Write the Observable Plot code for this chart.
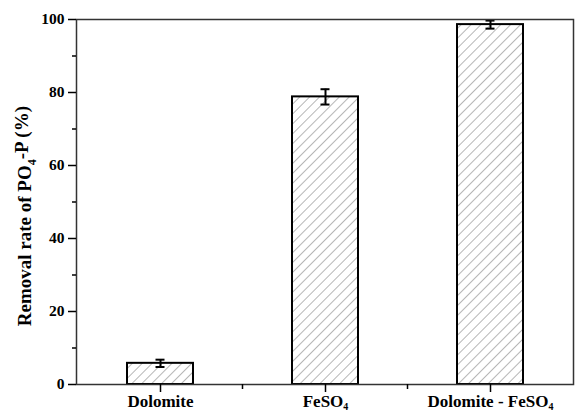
<!DOCTYPE html>
<html>
<head>
<meta charset="utf-8">
<script src="https://cdn.jsdelivr.net/npm/d3@7"></script>
<script src="https://cdn.jsdelivr.net/npm/@observablehq/plot@0.6"></script>
<style>
  html, body { margin: 0; padding: 0; background: white; }
  #chart svg text, #chart svg tspan { font-family: "Liberation Serif", "Times New Roman", Times, serif !important; font-weight: bold !important; }
  #chart svg g[aria-label="y-axis tick label"] text { font-size: 15.5px !important; }
  #chart svg g[aria-label="x-axis tick label"] text { font-size: 17px !important; }
  #chart svg text.ytitle { font-size: 19px !important; }
  #chart svg tspan.sub { font-size: 10px !important; }
  #chart svg tspan.subt { font-size: 12px !important; }
</style>
</head>
<body>
<div id="chart"></div>
<script>
const categories = ["Dolomite", "FeSO4", "Dolomite - FeSO4"];
const removal = [5.8, 78.8, 98.6];
const errors = [1.0, 2.1, 1.1];
const yMajorTicks = [0, 20, 40, 60, 80, 100];
const yMinorTicks = [10, 30, 50, 70, 90];

const data = categories.map((c, i) => ({cat: c, v: removal[i], e: errors[i]}));

const plot = Plot.plot({
  width: 577,
  height: 415,
  marginLeft: 76,
  marginRight: 4,
  marginTop: 19,
  marginBottom: 31,
  style: {fontFamily: "Liberation Serif", fontWeight: "bold", fontSize: "15px", background: "white", color: "black"},
  x: {domain: categories, paddingInner: 0.6, paddingOuter: 0.3, axis: null},
  y: {domain: [0, 100], axis: null},
  marks: [
    Plot.barY(data, {x: "cat", y: "v", fill: "url(#hatch)", stroke: "black", strokeWidth: 2}),
    Plot.ruleX(data, {x: "cat", y1: d => d.v - d.e, y2: d => d.v + d.e, stroke: "black", strokeWidth: 2}),
    Plot.tickY(data, {x: "cat", y: d => d.v - d.e, insetLeft: 28.5, insetRight: 28.5, stroke: "black", strokeWidth: 2}),
    Plot.tickY(data, {x: "cat", y: d => d.v + d.e, insetLeft: 28.5, insetRight: 28.5, stroke: "black", strokeWidth: 2}),
    Plot.frame({stroke: "#333", strokeWidth: 1.5}),
    Plot.axisY({ticks: yMajorTicks, tickSize: 8, tickPadding: 4, label: null, strokeWidth: 1.5}),
    Plot.axisY({ticks: yMinorTicks, tickSize: 4, tickFormat: () => "", label: null, strokeWidth: 1.5}),
    Plot.axisX({ticks: categories, tickSize: 8, tickPadding: 2, label: null, strokeWidth: 1.5})
  ]
});

const svg = d3.select(plot);
// hatch pattern
const defs = svg.insert("defs", ":first-child");
const pat = defs.append("pattern")
  .attr("id", "hatch")
  .attr("patternUnits", "userSpaceOnUse")
  .attr("width", 7).attr("height", 7)
  .attr("patternTransform", "rotate(45)");
pat.append("rect").attr("width", 7).attr("height", 7).attr("fill", "white");
pat.append("line").attr("x1", 0).attr("y1", 0).attr("x2", 0).attr("y2", 7)
  .attr("stroke", "#6e6e6e").attr("stroke-width", 1);
svg.selectAll("g[aria-label='bar'] rect, g[aria-label='bar']").attr("fill", "url(#hatch)");

// subscripts in x tick labels
svg.selectAll("g[aria-label='x-axis tick label'] text").each(function() {
  const t = this.textContent;
  if (t.endsWith("SO4")) {
    const sel = d3.select(this);
    sel.text(null);
    sel.append("tspan").text(t.slice(0, -1));
    sel.append("tspan").attr("class", "sub").attr("dy", "0.3em").text("4");
  }
});

// minor x ticks at band boundaries
const xs = plot.scale("x");
const ys = plot.scale("y");
const y0 = ys.apply(0);
const gMinor = svg.append("g").attr("stroke", "black").attr("stroke-width", 1.5);
categories.forEach((c, i) => {
  if (i < categories.length - 1) {
    const bx = xs.apply(c) + xs.bandwidth / 2 + xs.step / 2;
    gMinor.append("line").attr("x1", bx).attr("x2", bx).attr("y1", y0).attr("y2", y0 + 5);
  }
});

// y-axis title with subscript
const title = svg.append("text")
  .attr("class", "ytitle")
  .attr("transform", `translate(31,${ys.apply(46)}) rotate(-90)`)
  .attr("text-anchor", "middle")
  .attr("fill", "black");
title.append("tspan").text("Removal rate of PO");
title.append("tspan").attr("class", "subt").attr("dy", "0.4em").text("4");
title.append("tspan").attr("dy", "-0.4em").text("-P (%)");

document.getElementById("chart").appendChild(plot);
</script>
</body>
</html>
